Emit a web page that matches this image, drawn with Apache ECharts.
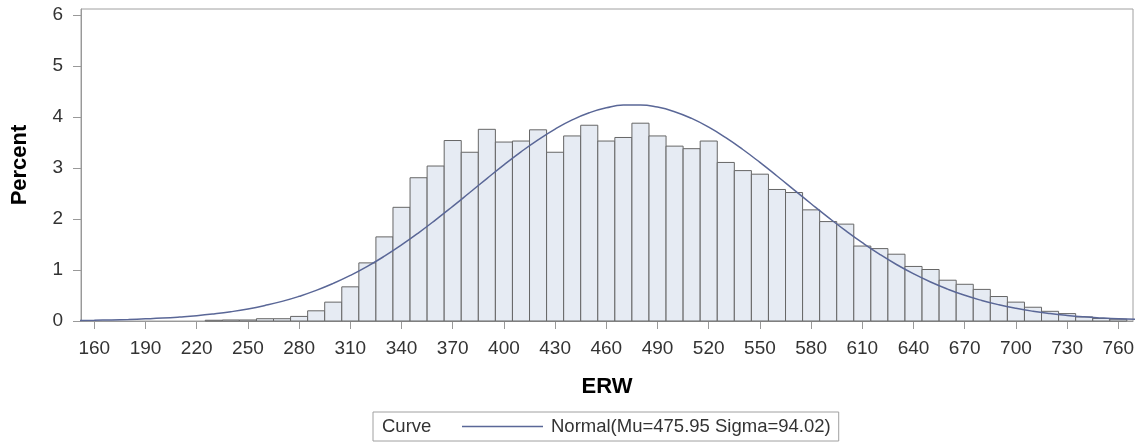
<!DOCTYPE html>
<html>
<head>
<meta charset="utf-8">
<script src="https://cdn.jsdelivr.net/npm/echarts@6/dist/echarts.min.js"></script>
<style>
  html, body { margin: 0; padding: 0; background: #fff; }
  #chart { width: 1141px; height: 442px; }
</style>
</head>
<body>
<div id="chart"></div>
<script>
// histogram bins (midpoints) and percent per bin
const binMid = [230, 240, 250, 260, 270, 280, 290, 300, 310, 320, 330, 340, 350, 360, 370, 380, 390,
                400, 410, 420, 430, 440, 450, 460, 470, 480, 490, 500, 510, 520, 530, 540, 550, 560,
                570, 580, 590, 600, 610, 620, 630, 640, 650, 660, 670, 680, 690, 700, 710, 720, 730,
                740, 750, 760];
const binPct = [0.015, 0.02, 0.02, 0.045, 0.045, 0.09, 0.2, 0.37, 0.67, 1.14, 1.65, 2.23, 2.81, 3.04, 3.54, 3.31, 3.76,
                3.51, 3.53, 3.75, 3.31, 3.63, 3.84, 3.53, 3.6, 3.88, 3.63, 3.43, 3.38, 3.53, 3.11, 2.95, 2.88, 2.58,
                2.52, 2.18, 1.95, 1.9, 1.47, 1.42, 1.31, 1.07, 1.01, 0.8, 0.72, 0.62, 0.48, 0.37, 0.27, 0.19, 0.145,
                0.08, 0.05, 0.035];
const binWidth = 10;

// fitted normal curve, sampled every 10 units
const curveX = [150, 160, 170, 180, 190, 200, 210, 220, 230, 240, 250, 260, 270, 280, 290, 300, 310, 320,
                330, 340, 350, 360, 370, 380, 390, 400, 410, 420, 430, 440, 450, 460, 470, 480, 490, 500,
                510, 520, 530, 540, 550, 560, 570, 580, 590, 600, 610, 620, 630, 640, 650, 660, 670, 680,
                690, 700, 710, 720, 730, 740, 750, 760, 770];
const curveY = [0.010, 0.015, 0.021, 0.030, 0.042, 0.057, 0.078, 0.104, 0.139, 0.182, 0.236, 0.304, 0.385, 0.484,
                0.600, 0.737, 0.894, 1.072, 1.272, 1.492, 1.730, 1.984, 2.249, 2.521, 2.794, 3.062, 3.318, 3.554,
                3.765, 3.944, 4.084, 4.182, 4.235, 4.239, 4.196, 4.106, 3.974, 3.802, 3.597, 3.364, 3.111, 2.845,
                2.573, 2.300, 2.033, 1.777, 1.536, 1.312, 1.108, 0.926, 0.765, 0.625, 0.504, 0.403, 0.318, 0.248,
                0.191, 0.146, 0.110, 0.082, 0.061, 0.044, 0.032];

const xTicks = [160, 190, 220, 250, 280, 310, 340, 370, 400, 430, 460, 490, 520, 550, 580, 610, 640, 670, 700, 730, 760];
const yTicks = [0, 1, 2, 3, 4, 5, 6];

const curveName = 'Normal(Mu=475.95 Sigma=94.02)';
const font = 'Liberation Sans, Arial, sans-serif';

const chart = echarts.init(document.getElementById('chart'));

const option = {
    animation: false,
    grid: {
        left: 81, right: 8, top: 9, bottom: 121,
        show: true,
        borderColor: '#a0a0a0',
        borderWidth: 1
    },
    xAxis: {
        type: 'value',
        min: 152.2,
        max: 768.6,
        name: 'ERW',
        nameLocation: 'middle',
        nameGap: 55,
        nameTextStyle: { fontFamily: font, fontSize: 22, fontWeight: 'bold', color: '#000' },
        axisLine: { show: true, lineStyle: { color: '#999' } },
        axisTick: { show: true, length: 8, customValues: xTicks, lineStyle: { color: '#999' } },
        axisLabel: { customValues: xTicks, margin: 18, fontFamily: font, fontSize: 19, color: '#333' },
        splitLine: { show: false }
    },
    yAxis: {
        type: 'value',
        min: 0,
        max: 6.12,
        name: 'Percent',
        nameLocation: 'middle',
        nameGap: 50,
        nameTextStyle: { fontFamily: font, fontSize: 22, fontWeight: 'bold', color: '#000' },
        axisLine: { show: true, lineStyle: { color: '#999' } },
        axisTick: { show: true, length: 8, customValues: yTicks, lineStyle: { color: '#999' } },
        axisLabel: { customValues: yTicks, margin: 18, fontFamily: font, fontSize: 19, color: '#333' },
        splitLine: { show: false }
    },
    legend: {
        left: 373,
        top: 412,
        data: [{ name: curveName, icon: 'rect' }],
        itemWidth: 81,
        itemHeight: 1.5,
        padding: [5, 8, 5, 89],
        borderColor: '#a0a0a0',
        borderWidth: 1,
        selectedMode: false,
        textStyle: { fontFamily: font, fontSize: 18.5, color: '#333', padding: [0, 0, 0, 3] }
    },
    graphic: [{
        type: 'text',
        left: 382,
        top: 417,
        style: { text: 'Curve', font: '18.5px ' + font, fill: '#333' }
    }],
    series: [
        {
            name: 'hist',
            type: 'custom',
            data: binMid.map((m, i) => [m, binPct[i]]),
            encode: { x: 0, y: 1 },
            renderItem: (params, api) => {
                const mid = api.value(0);
                const p0 = api.coord([mid - binWidth / 2, api.value(1)]);
                const p1 = api.coord([mid + binWidth / 2, 0]);
                return {
                    type: 'rect',
                    shape: { x: p0[0], y: p0[1], width: p1[0] - p0[0], height: p1[1] - p0[1] },
                    style: { fill: '#e6ebf3', stroke: '#666', lineWidth: 1 }
                };
            },
            z: 2
        },
        {
            name: curveName,
            type: 'line',
            data: curveX.map((x, i) => [x, curveY[i]]),
            smooth: true,
            symbol: 'none',
            clip: true,
            lineStyle: { color: '#5a6797', width: 1.5 },
            itemStyle: { color: '#5a6797' },
            z: 3
        }
    ]
};

chart.setOption(option);
</script>
</body>
</html>
